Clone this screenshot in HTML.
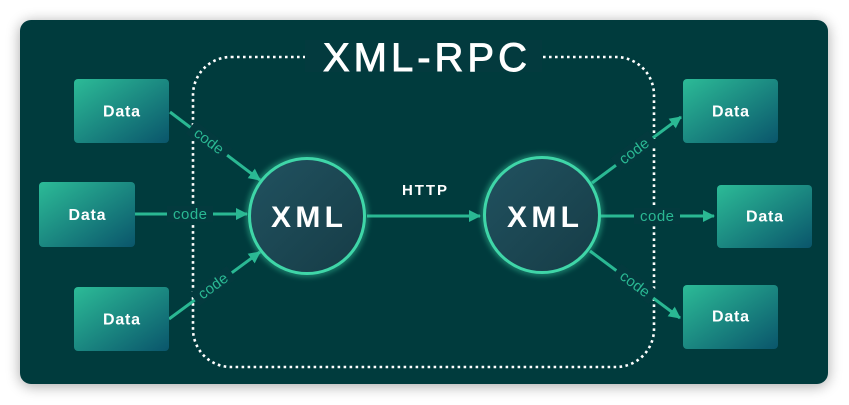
<!DOCTYPE html>
<html><head><meta charset="utf-8"><style>
html,body{margin:0;padding:0;background:#fff;}
svg{display:block;}
text{font-family:"Liberation Sans",sans-serif;}
</style></head><body>
<svg width="849" height="405" viewBox="0 0 849 405" xmlns="http://www.w3.org/2000/svg">
<defs>
<filter id="sh" x="-10%" y="-10%" width="120%" height="125%">
<feGaussianBlur in="SourceAlpha" stdDeviation="7"/>
<feOffset dy="2" result="b"/>
<feComponentTransfer><feFuncA type="linear" slope="0.35"/></feComponentTransfer>
<feMerge><feMergeNode/><feMergeNode in="SourceGraphic"/></feMerge>
</filter>
<filter id="glow" x="-30%" y="-30%" width="160%" height="160%">
<feGaussianBlur stdDeviation="3"/>
</filter>
<linearGradient id="bx" x1="0" y1="0" x2="1" y2="1">
<stop offset="0" stop-color="#2cbb97"/>
<stop offset="1" stop-color="#0a556b"/>
</linearGradient>
<linearGradient id="cf" x1="0" y1="0" x2="1" y2="1">
<stop offset="0" stop-color="#215260"/>
<stop offset="1" stop-color="#163c46"/>
</linearGradient>
<marker id="ar" viewBox="0 0 12 12" refX="11" refY="6" markerWidth="12" markerHeight="12" markerUnits="userSpaceOnUse" orient="auto">
<path d="M0,0 L12,6 L0,12 z" fill="#2ab893"/>
</marker>
</defs>

<rect x="20" y="20" width="808" height="364" rx="11" fill="#033a3e" filter="url(#sh)"/>

<!-- dotted frame -->
<rect x="193" y="57" width="461" height="310" rx="38" fill="none" stroke="#ffffff" stroke-width="2.6" stroke-dasharray="2.6 3.4"/>
<rect x="305" y="40" width="237" height="32" fill="#033a3e"/>
<text x="425" y="71" font-size="40" fill="#fff" stroke="#fff" stroke-width="0.9" text-anchor="middle" textLength="204" lengthAdjust="spacing">XML-RPC</text>

<!-- connectors -->
<g stroke="#2ab893" stroke-width="3" fill="none">
<line x1="170" y1="112" x2="260" y2="180" marker-end="url(#ar)"/>
<line x1="135" y1="214" x2="247" y2="214" marker-end="url(#ar)"/>
<line x1="169" y1="319" x2="260" y2="252" marker-end="url(#ar)"/>
<line x1="367" y1="216" x2="480" y2="216" marker-end="url(#ar)"/>
<line x1="592" y1="183" x2="681" y2="117" marker-end="url(#ar)"/>
<line x1="600" y1="216" x2="714" y2="216" marker-end="url(#ar)"/>
<line x1="590" y1="251" x2="680" y2="318" marker-end="url(#ar)"/>
</g>

<!-- code labels -->
<g font-size="15" fill="#2ab893" text-anchor="middle">
<g transform="translate(209,141) rotate(37)"><rect x="-23" y="-8" width="46" height="16" fill="#033a3e"/><text x="0" y="5" textLength="33" lengthAdjust="spacing">code</text></g>
<g transform="translate(190,214)"><rect x="-23" y="-8" width="46" height="16" fill="#033a3e"/><text x="0" y="5" textLength="34" lengthAdjust="spacing">code</text></g>
<g transform="translate(213,286) rotate(-36.4)"><rect x="-23" y="-8" width="46" height="16" fill="#033a3e"/><text x="0" y="5" textLength="33" lengthAdjust="spacing">code</text></g>
<g transform="translate(634,151) rotate(-36.6)"><rect x="-23" y="-8" width="46" height="16" fill="#033a3e"/><text x="0" y="5" textLength="33" lengthAdjust="spacing">code</text></g>
<g transform="translate(657,216)"><rect x="-23" y="-8" width="46" height="16" fill="#033a3e"/><text x="0" y="5" textLength="34" lengthAdjust="spacing">code</text></g>
<g transform="translate(635,284) rotate(36.7)"><rect x="-23" y="-8" width="46" height="16" fill="#033a3e"/><text x="0" y="5" textLength="33" lengthAdjust="spacing">code</text></g>
</g>

<text x="424.5" y="195" font-size="15" font-weight="bold" fill="#fff" text-anchor="middle" textLength="45" lengthAdjust="spacing">HTTP</text>

<!-- circles -->
<circle cx="307" cy="216" r="58" fill="none" stroke="#3fd8a9" stroke-width="5" opacity="0.55" filter="url(#glow)"/>
<circle cx="307" cy="216" r="57.5" fill="url(#cf)" stroke="#3fd6a8" stroke-width="3"/>
<text x="307" y="227" font-size="30" font-weight="bold" fill="#fff" text-anchor="middle" textLength="72" lengthAdjust="spacing">XML</text>

<circle cx="542" cy="215" r="58" fill="none" stroke="#3fd8a9" stroke-width="5" opacity="0.55" filter="url(#glow)"/>
<circle cx="542" cy="215" r="57.5" fill="url(#cf)" stroke="#3fd6a8" stroke-width="3"/>
<text x="543" y="227" font-size="30" font-weight="bold" fill="#fff" text-anchor="middle" textLength="72" lengthAdjust="spacing">XML</text>

<!-- data boxes -->
<g font-size="16" font-weight="bold" fill="#fff" text-anchor="middle">
<rect x="74" y="79" width="95" height="64" rx="4" fill="url(#bx)"/>
<text x="121.5" y="116.5" textLength="37" lengthAdjust="spacing">Data</text>
<rect x="39" y="182" width="96" height="65" rx="4" fill="url(#bx)"/>
<text x="87" y="220" textLength="37" lengthAdjust="spacing">Data</text>
<rect x="74" y="287" width="95" height="64" rx="4" fill="url(#bx)"/>
<text x="121.5" y="324.5" textLength="37" lengthAdjust="spacing">Data</text>
<rect x="683" y="79" width="95" height="64" rx="4" fill="url(#bx)"/>
<text x="730.5" y="116.5" textLength="37" lengthAdjust="spacing">Data</text>
<rect x="717" y="185" width="95" height="63" rx="4" fill="url(#bx)"/>
<text x="764.5" y="221.5" textLength="37" lengthAdjust="spacing">Data</text>
<rect x="683" y="285" width="95" height="64" rx="4" fill="url(#bx)"/>
<text x="730.5" y="321.5" textLength="37" lengthAdjust="spacing">Data</text>
</g>
</svg>
</body></html>
